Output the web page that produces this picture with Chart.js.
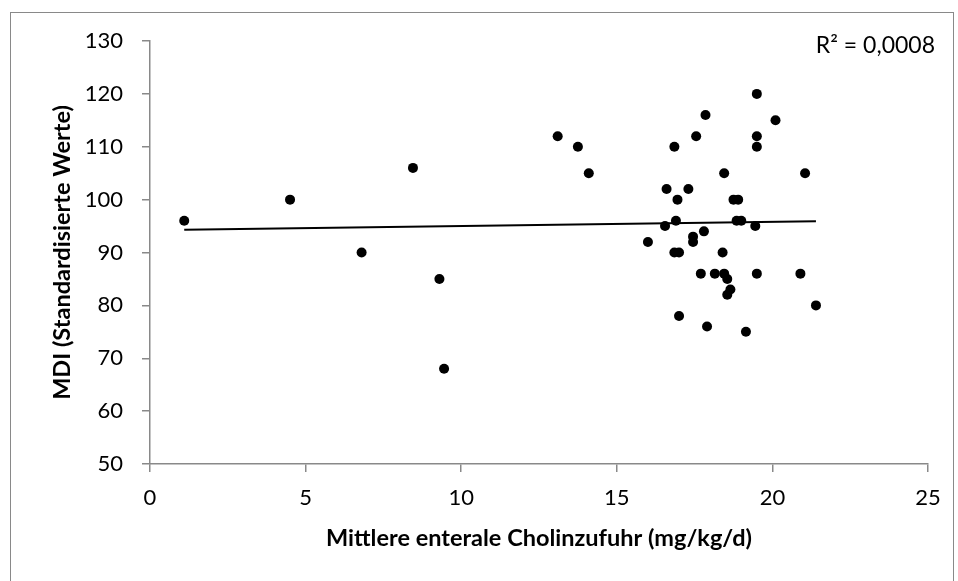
<!DOCTYPE html>
<html>
<head>
<meta charset="utf-8">
<script src="https://cdn.jsdelivr.net/npm/chart.js@4"></script>
<style>
  body { margin: 0; background: #fff; }
  #wrap { width: 958px; height: 581px; position: relative; }
</style>
</head>
<body>
<div id="wrap"><canvas id="cholinChart" width="958" height="581"></canvas></div>
<script>
"use strict";

// Mittlere enterale Cholinzufuhr (mg/kg/d)
var cholin = [
  1.1, 4.5, 6.8, 8.45, 9.3, 9.45, 13.1, 13.75, 14.1, 16.0,
  16.55, 16.6, 16.85, 16.9, 16.95, 16.85, 17.0, 17.0, 17.3, 17.45,
  17.45, 17.55, 17.7, 17.8, 17.85, 17.9, 18.15, 18.4, 18.45, 18.45,
  18.55, 18.65, 18.55, 18.75, 18.9, 18.85, 19.0, 19.15, 19.45, 19.5,
  19.5, 19.5, 19.5, 20.1, 20.9, 21.05, 21.4
];
// MDI (Standardisierte Werte)
var mdi = [
  96, 100, 90, 106, 85, 68, 112, 110, 105, 92,
  95, 102, 110, 96, 100, 90, 90, 78, 102, 93,
  92, 112, 86, 94, 116, 76, 86, 90, 105, 86,
  85, 83, 82, 100, 100, 96, 96, 75, 95, 120,
  112, 110, 86, 115, 86, 105, 80
];
// linear trend line as drawn (end points)
var trendX = [1.1, 21.4];
var trendY = [94.3, 95.9];

var xTicks = [0, 5, 10, 15, 20, 25];
var yTicks = [50, 60, 70, 80, 90, 100, 110, 120, 130];
var rSquared = "R\u00B2 = 0,0008";

var axisGray = "#898989";
var fontFam = "Lato, 'Open Sans', sans-serif";

var points = cholin.map(function (x, i) {
  return { x: x, y: mdi[i] };
});
var trend = trendX.map(function (x, i) {
  return { x: x, y: trendY[i] };
});

function fixBox(w, h) {
  return function (scale) {
    if (w) scale.width = w;
    if (h) scale.height = h;
    scale.paddingTop = 0;
    scale.paddingBottom = 0;
    scale.paddingLeft = 0;
    scale.paddingRight = 0;
  };
}

// frame round the chart and the R² label
var decor = {
  id: "decor",
  beforeDraw: function (chart) {
    var ctx = chart.ctx;
    ctx.save();
    ctx.strokeStyle = axisGray;
    ctx.lineWidth = 1;
    ctx.strokeRect(10.5, 12.5, 943, 600);
    ctx.restore();
  },
  afterDraw: function (chart) {
    var ctx = chart.ctx;
    ctx.save();
    ctx.fillStyle = "#000";
    ctx.font = "23px " + fontFam;
    ctx.textAlign = "right";
    ctx.textBaseline = "middle";
    ctx.fillText(rSquared, 935, 46);
    ctx.restore();
  },
};

var ctx = document.getElementById("cholinChart").getContext("2d");
var cholinChart = new Chart(ctx, {
  type: "scatter",
  plugins: [decor],
  data: {
    datasets: [
      {
        label: "MDI",
        data: points,
        backgroundColor: "#000",
        borderWidth: 0,
        pointRadius: 5,
        pointHoverRadius: 5,
        order: 1,
      },
      {
        label: "Trend",
        data: trend,
        showLine: true,
        borderColor: "#000",
        borderWidth: 2,
        pointRadius: 0,
        fill: false,
        order: 2,
      },
    ],
  },
  options: {
    responsive: false,
    animation: false,
    events: [],
    layout: { padding: { left: 0, top: 41, right: 30, bottom: 0 } },
    plugins: { legend: { display: false }, tooltip: { enabled: false } },
    scales: {
      x: {
        type: "linear",
        min: 0,
        max: 25,
        afterFit: fixBox(0, 117),
        afterBuildTicks: function (scale) {
          scale.ticks = xTicks.map(function (v) { return { value: v }; });
        },
        border: { color: axisGray, width: 1.5 },
        grid: { drawOnChartArea: false, drawTicks: true, tickLength: 8, color: axisGray, lineWidth: 1.5 },
        ticks: { color: "#000", padding: 13, font: { family: fontFam, size: 22 } },
        title: {
          display: true,
          text: "Mittlere enterale Cholinzufuhr (mg/kg/d)",
          color: "#000",
          font: { family: fontFam, size: 23.5, weight: "bold" },
          padding: { top: 28, bottom: 28 },
        },
      },
      y: {
        type: "linear",
        min: 50,
        max: 130,
        afterFit: fixBox(150, 0),
        afterBuildTicks: function (scale) {
          scale.ticks = yTicks.map(function (v) { return { value: v }; });
        },
        border: { color: axisGray, width: 1.5 },
        grid: { drawOnChartArea: false, drawTicks: true, tickLength: 8, color: axisGray, lineWidth: 1.5 },
        ticks: { color: "#000", padding: 19, font: { family: fontFam, size: 22 } },
        title: {
          display: true,
          text: "MDI (Standardisierte Werte)",
          color: "#000",
          font: { family: fontFam, size: 23.5, weight: "bold" },
          padding: { top: 48, bottom: 48 },
        },
      },
    },
  },
});
</script>
</body>
</html>
